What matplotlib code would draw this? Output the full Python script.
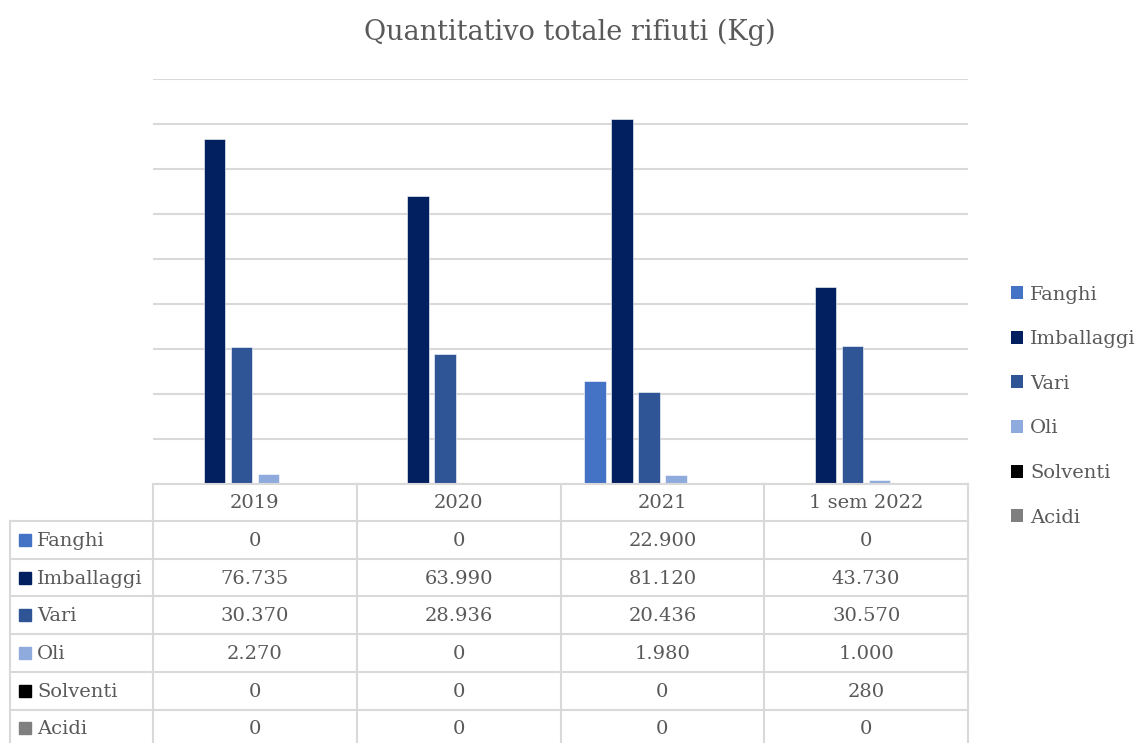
import matplotlib
matplotlib.use("Agg")
import matplotlib.pyplot as plt
from matplotlib.patches import Patch, Rectangle
import numpy as np

categories = ["2019", "2020", "2021", "1 sem 2022"]
series_names = ["Fanghi", "Imballaggi", "Vari", "Oli", "Solventi", "Acidi"]
fanghi = [0, 0, 22900, 0]
imballaggi = [76735, 63990, 81120, 43730]
vari = [30370, 28936, 20436, 30570]
oli = [2270, 0, 1980, 1000]
solventi = [0, 0, 0, 280]
acidi = [0, 0, 0, 0]
series_values = [fanghi, imballaggi, vari, oli, solventi, acidi]
colors = ["#4472C4", "#022060", "#2F5597", "#8FAADC", "#000000", "#7F7F7F"]

TXT = "#595959"
GRID = "#D9D9D9"
FONT = "DejaVu Serif"
plt.rcParams["font.family"] = FONT

W, H = 1140, 743
fig = plt.figure(figsize=(W / 100, H / 100), dpi=100)

# plot area in pixels
L, R, T, B = 153, 968, 79, 484
ax = fig.add_axes([L / W, (H - B) / H, (R - L) / W, (B - T) / H])
n = len(series_names)
step = 0.1324
width = 0.105
x = np.arange(len(categories))
for i, (name, vals, c) in enumerate(zip(series_names, series_values, colors)):
    ax.bar(x + (i - (n - 1) / 2) * step, vals, width=width, color=c,
           edgecolor="white", linewidth=0.4, label=name, zorder=3)
ax.set_xlim(-0.5, len(categories) - 0.5)
ax.set_ylim(0, 90000)
ax.set_yticks(np.arange(0, 90001, 10000))
ax.yaxis.grid(True, color=GRID, linewidth=1.5, zorder=0)
ax.tick_params(left=False, bottom=False, labelleft=False, labelbottom=False)
for s in ax.spines.values():
    s.set_visible(False)

fig.text(0.5, 1 - 32 / H, "Quantitativo totale rifiuti (Kg)", ha="center",
         va="center", fontsize=19.5, color=TXT, family=FONT)

# data table drawn in pixel coordinates on an overlay axes
ov = fig.add_axes([0, 0, 1, 1], facecolor="none")
ov.set_xlim(0, W)
ov.set_ylim(H, 0)
ov.axis("off")
col_edges = np.linspace(L, R, len(categories) + 1)
row_h = 37.7
header_top, header_bot = B, 521
row_tops = [header_bot + k * row_h for k in range(n + 1)]
lab_left = 10
lw = 1.5
ov.plot([L, R], [header_top, header_top], color=GRID, lw=lw)
for xe in col_edges:
    ov.plot([xe, xe], [header_top, H + 5], color=GRID, lw=lw)
ov.plot([lab_left, lab_left], [header_bot, H + 5], color=GRID, lw=lw)
for yt in row_tops:
    ov.plot([lab_left, R], [yt, yt], color=GRID, lw=lw)
centers = (col_edges[:-1] + col_edges[1:]) / 2
FS = 14
for cx, cat in zip(centers, categories):
    ov.text(cx, (header_top + header_bot) / 2 + 1, cat, ha="center", va="center",
            fontsize=FS, color=TXT)
for k, (name, vals, c) in enumerate(zip(series_names, series_values, colors)):
    yc = row_tops[k] + row_h / 2
    ov.add_patch(Rectangle((19, yc - 6), 12, 12, color=c))
    ov.text(37, yc + 1, name, ha="left", va="center", fontsize=FS, color=TXT)
    for cx, v in zip(centers, vals):
        ov.text(cx, yc + 1, f"{v:,}".replace(",", "."), ha="center", va="center",
                fontsize=FS, color=TXT)

handles = [Patch(facecolor=c, edgecolor="none") for c in colors]
fig.legend(handles, series_names, loc="upper left",
           bbox_to_anchor=(993 / W, 1 - 268 / H), frameon=False,
           fontsize=FS, labelcolor=TXT, handlelength=0.65, handleheight=0.65,
           handletextpad=0.35, labelspacing=1.37)

fig.savefig("out.png", dpi=100)
